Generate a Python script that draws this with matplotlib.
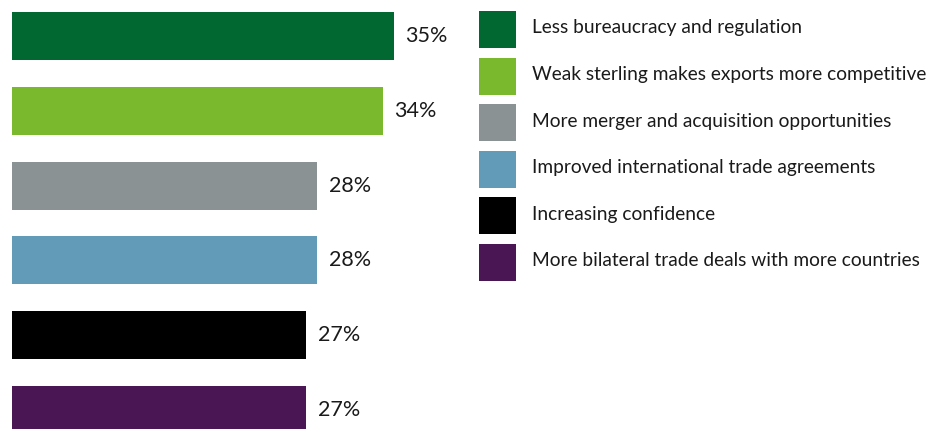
import matplotlib
matplotlib.use("Agg")
import matplotlib.pyplot as plt
from matplotlib.patches import Rectangle

plt.rcParams['font.family'] = ['Lato', 'DejaVu Sans']

# survey results, % of respondents
reasons = [
    "Less bureaucracy and regulation",
    "Weak sterling makes exports more competitive",
    "More merger and acquisition opportunities",
    "Improved international trade agreements",
    "Increasing confidence",
    "More bilateral trade deals with more countries",
]
values = [35, 34, 28, 28, 27, 27]
colours = ["#006830", "#7ab92d", "#8b9294", "#629bb8", "#000000", "#4a1654"]

W, H = 946, 429
fig = plt.figure(figsize=(W / 100, H / 100), dpi=100)

# bars: 1% ~ 10.9 px, bar pitch ~74.8 px
px_per_pct = 10.9
pitch = 74.8
ax_w = 500
ax = fig.add_axes([12 / W, 0, ax_w / W, 1])
ax.set_xlim(0, ax_w / px_per_pct)
top = -36 / pitch
ax.set_ylim(top + H / pitch, top)
ax.axis("off")

ypos = list(range(len(values)))
ax.barh(ypos, values, height=48 / pitch, color=colours)
for y, v in zip(ypos, values):
    ax.text(v + 12 / px_per_pct, y, "%d%%" % v, va="center", ha="left",
            fontsize=15.5, color="#1a1a1a")

# key on the right, drawn in pixel space
lg = fig.add_axes([0, 0, 1, 1])
lg.set_xlim(0, W)
lg.set_ylim(H, 0)
lg.axis("off")
for i, (name, c) in enumerate(zip(reasons, colours)):
    y0 = 11 + 46.6 * i
    lg.add_patch(Rectangle((479, y0), 37, 37, color=c, lw=0))
    lg.text(532, y0 + 17, name, va="center", ha="left", fontsize=13.8,
            color="#1a1a1a")

fig.savefig("out.png", dpi=100)
